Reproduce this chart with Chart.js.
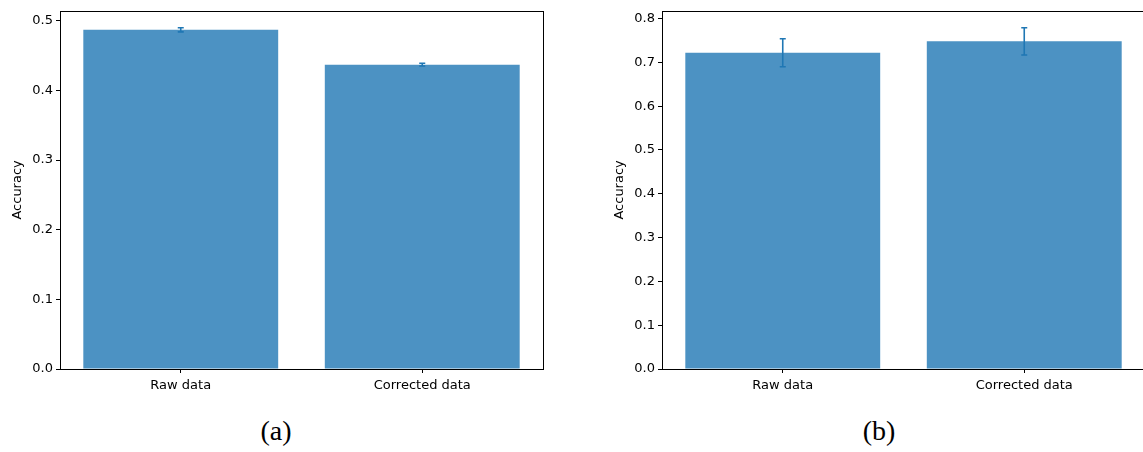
<!DOCTYPE html>
<html lang="en">
<head>
    <meta charset="UTF-8">
    <title>Accuracy raw vs corrected</title>
    <style>
        body { margin: 0; background: #fff; width: 1143px; height: 452px; position: relative; overflow: hidden; }
        .panel { position: absolute; top: 0; }
        .cap { position: absolute; top: 415px; font-family: "Liberation Serif", "DejaVu Serif", serif; font-size: 28px; color: #000; transform: translateX(-50%); }
    </style>
</head>
<body>
    <div class="panel" style="left:0px;width:571px;height:400px"><canvas id="chartA" width="571" height="400"></canvas></div>
    <div class="panel" style="left:602px;width:545px;height:400px"><canvas id="chartB" width="545" height="400"></canvas></div>
    <div class="cap" style="left:276px">(a)</div>
    <div class="cap" style="left:879px">(b)</div>

    <script src="https://cdn.jsdelivr.net/npm/chart.js@4/dist/chart.umd.min.js"></script>
    <script>
        const categories = ['Raw data', 'Corrected data'];

        // panel (a)
        const accA = [0.487, 0.437];
        const errA = [0.003, 0.002];
        const ticksA = [0, 0.1, 0.2, 0.3, 0.4, 0.5];
        const maxA = 0.5143;

        // panel (b)
        const accB = [0.722, 0.748];
        const errB = [0.032, 0.031];
        const ticksB = [0, 0.1, 0.2, 0.3, 0.4, 0.5, 0.6, 0.7, 0.8];
        const maxB = 0.8178;

        const barColor = 'rgba(31,119,180,0.8)';
        const errColor = '#1f77b4';
        const font = { family: 'DejaVu Sans', size: 13 };

        // error bars + axes frame
        const extras = {
            id: 'extras',
            afterDatasetsDraw(chart, args, opts) {
                const ctx = chart.ctx;
                const y = chart.scales.y;
                const meta = chart.getDatasetMeta(0);
                const vals = chart.data.datasets[0].data;
                ctx.save();
                ctx.strokeStyle = errColor;
                ctx.lineWidth = 1.6;
                meta.data.forEach((bar, i) => {
                    const top = y.getPixelForValue(vals[i] + opts.err[i]);
                    const bot = y.getPixelForValue(vals[i] - opts.err[i]);
                    ctx.beginPath();
                    ctx.moveTo(bar.x, top); ctx.lineTo(bar.x, bot);
                    ctx.moveTo(bar.x - 3, top); ctx.lineTo(bar.x + 3, top);
                    ctx.moveTo(bar.x - 3, bot); ctx.lineTo(bar.x + 3, bot);
                    ctx.stroke();
                });
                const a = chart.chartArea;
                ctx.strokeStyle = '#000';
                ctx.lineWidth = 1;
                ctx.strokeRect(Math.round(a.left) + 0.5, Math.round(a.top) + 0.5,
                    Math.round(a.right - a.left), Math.round(a.bottom - a.top));
                ctx.restore();
            }
        };

        function makeChart(id, values, errs, tickVals, yMax, padRight) {
            const ctx = document.getElementById(id).getContext('2d');
            return new Chart(ctx, {
                type: 'bar',
                data: {
                    labels: categories,
                    datasets: [{
                        data: values,
                        backgroundColor: barColor,
                        borderWidth: 0,
                        categoryPercentage: 1,
                        barPercentage: 0.807
                    }]
                },
                options: {
                    responsive: false,
                    devicePixelRatio: 1,
                    animation: false,
                    layout: { padding: { left: 0, right: padRight, top: 10, bottom: 0 } },
                    plugins: {
                        legend: { display: false },
                        tooltip: { enabled: false },
                        extras: { err: errs }
                    },
                    scales: {
                        x: {
                            grid: { display: true, drawOnChartArea: false, tickLength: 4, color: '#000', offset: false },
                            border: { display: false },
                            ticks: { color: '#000', font: font, padding: 5, maxRotation: 0 },
                            afterFit: s => { s.height = 31; }
                        },
                        y: {
                            min: 0,
                            max: yMax,
                            grid: { drawOnChartArea: false, tickLength: 4, color: '#000' },
                            border: { display: false },
                            ticks: { color: '#000', font: font, padding: 3, callback: v => v.toFixed(1) },
                            afterBuildTicks: s => { s.ticks = tickVals.map(v => ({ value: v })); },
                            title: { display: true, text: 'Accuracy', color: '#000', font: font, padding: { top: 10, bottom: 4 } },
                            afterFit: s => { s.width = 60; }
                        }
                    }
                },
                plugins: [extras]
            });
        }

        makeChart('chartA', accA, errA, ticksA, maxA, 28);
        makeChart('chartB', accB, errB, ticksB, maxB, 2);
    </script>
</body>
</html>
